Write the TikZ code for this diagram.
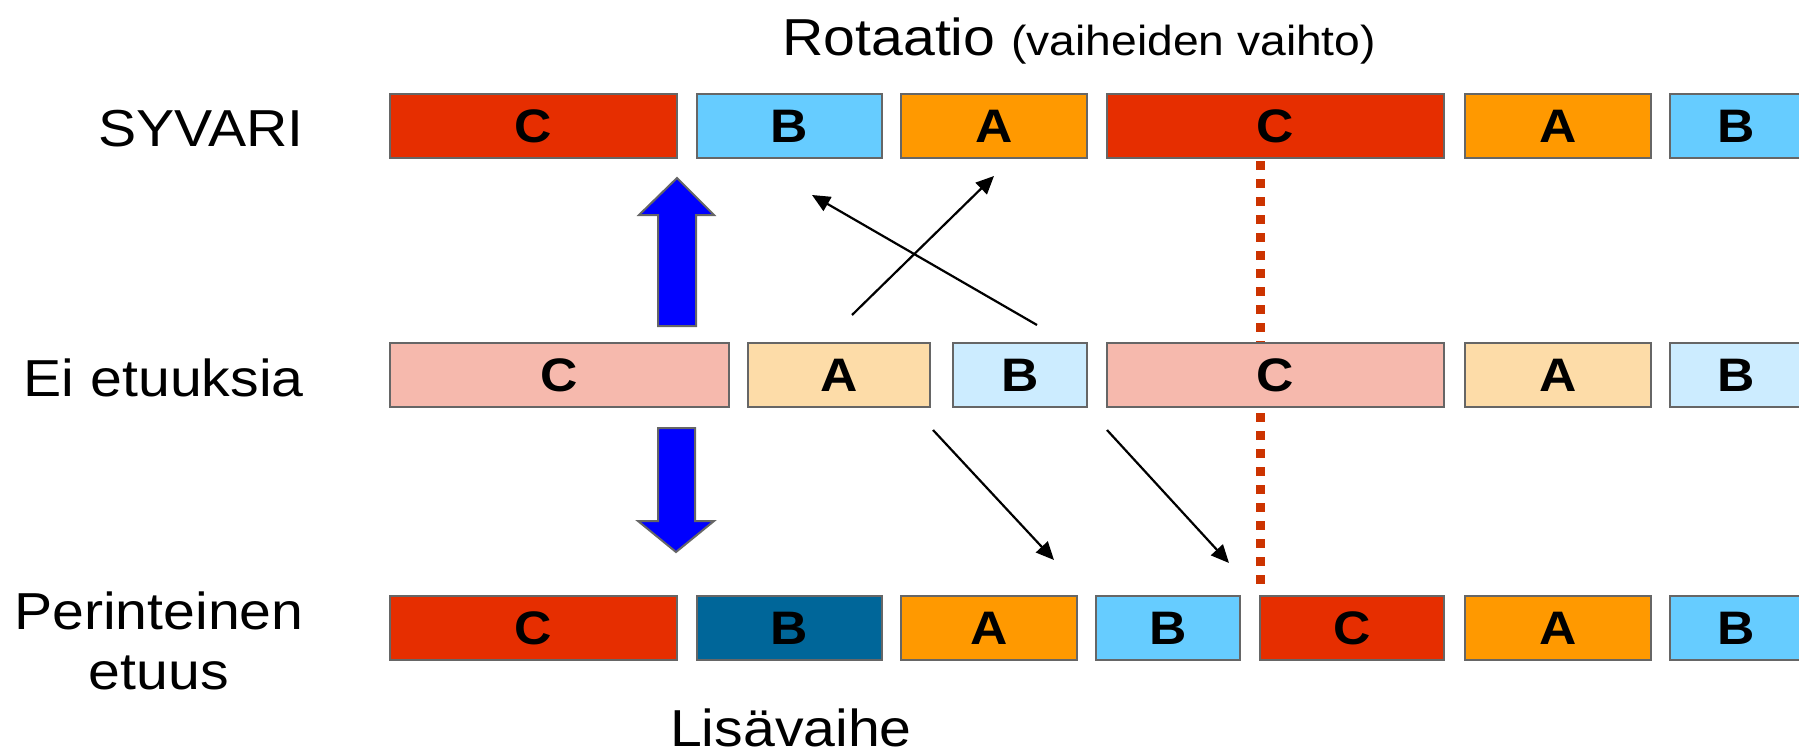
\documentclass[tikz,border=0pt]{standalone}
\usepackage{fontspec}
\setmainfont[FakeStretch=1.1]{Liberation Sans}
\usetikzlibrary{arrows.meta}
\definecolor{cred}{RGB}{230,46,0}
\definecolor{clblue}{RGB}{102,204,255}
\definecolor{corange}{RGB}{255,153,0}
\definecolor{cdblue}{RGB}{0,102,153}
\definecolor{cpred}{RGB}{246,185,173}
\definecolor{cporange}{RGB}{253,220,168}
\definecolor{cpblue}{RGB}{204,236,255}
\definecolor{cdot}{RGB}{204,51,0}
\definecolor{cedge}{RGB}{102,102,102}
\begin{document}
\begin{tikzpicture}[x=0.5pt,y=-0.5pt,
 seg/.style={draw=cedge, line width=1.25pt, inner sep=0pt, minimum height=32pt, font=\fontsize{23.5}{26}\selectfont\bfseries},
 lbl/.style={font=\fontsize{26}{30}\selectfont, inner sep=0pt},
 thinarrow/.style={draw=black, line width=1.1pt, -{Triangle[length=9pt,width=8pt]}},
 fatarrow/.style={fill=blue, draw=cedge, line width=1pt, line join=miter},
 dots/.style={draw=cdot, line width=4.5pt, dash pattern=on 4.5pt off 4.5pt}]
\clip (0,0) rectangle (1799,755);
% title and labels
\node[anchor=base west, inner sep=0pt] (tit) at (782,55) {\fontsize{26}{30}\selectfont Rotaatio \fontsize{21}{25}\selectfont(vaiheiden vaihto)};
\node[lbl, anchor=base east] (lsy) at (304,146) {SYVARI};
\node[lbl, anchor=base east] (lei) at (304,396) {Ei etuuksia};
\node[lbl, anchor=base east] (lpe) at (304,629) {Perinteinen};
\node[lbl, anchor=base] (lpe2) at ([yshift=-30pt]lpe.base) {etuus};
\node[lbl, anchor=base] (lis) at (791,746) {Lisävaihe};
% row 1: SYVARI
\node[seg, fill=cred, minimum width=143.5pt] (s1) at (533.5,126) {C};
\node[seg, fill=clblue, minimum width=92.5pt] (s2) at (789.5,126) {B};
\node[seg, fill=corange, minimum width=93pt] (s3) at (994,126) {A};
\node[seg, fill=cred, minimum width=168.5pt] (s4) at (1275.5,126) {C};
\node[seg, fill=corange, minimum width=93pt] (s5) at (1558,126) {A};
\node[seg, fill=clblue, minimum width=66pt] (s6) at (1736,126) {B};
% row 3: Perinteinen etuus
\node[seg, fill=cred, minimum width=143.5pt] (p1) at (533.5,628) {C};
\node[seg, fill=cdblue, minimum width=92.5pt] (p2) at (789.5,628) {B};
\node[seg, fill=corange, minimum width=88pt] (p3) at (989,628) {A};
\node[seg, fill=clblue, minimum width=72pt] (p4) at (1168,628) {B};
\node[seg, fill=cred, minimum width=92pt] (p5) at (1352,628) {C};
\node[seg, fill=corange, minimum width=93pt] (p6) at (1558,628) {A};
\node[seg, fill=clblue, minimum width=66pt] (p7) at (1736,628) {B};
% dotted divider
\coordinate (dtop) at (1260,161);
\draw[dots] (dtop) -- ([yshift=2pt]dtop |- p5.north) ;
% row 2: Ei etuuksia
\node[seg, fill=cpred, minimum width=169.5pt] (e1) at (559.5,375) {C};
\node[seg, fill=cporange, minimum width=91pt] (e2) at (839,375) {A};
\node[seg, fill=cpblue, minimum width=67pt] (e3) at (1020,375) {B};
\node[seg, fill=cpred, minimum width=168.5pt] (e4) at (1275.5,375) {C};
\node[seg, fill=cporange, minimum width=93pt] (e5) at (1558,375) {A};
\node[seg, fill=cpblue, minimum width=66pt] (e6) at (1736,375) {B};
% fat blue arrows
\draw[fatarrow] (658,326) -- (658,215) -- (639,215) -- (677,178) -- (714,215) -- (696,215) -- (696,326) -- cycle;
\draw[fatarrow] (658,428) -- (658,521) -- (638,521) -- (676,552) -- (714,521) -- (695,521) -- (695,428) -- cycle;
% thin arrows
\coordinate (a1s) at (852,315); \coordinate (a1e) at (994,176);
\coordinate (a2s) at (1037,325); \coordinate (a2e) at (812,195);
\coordinate (a3s) at (933,430); \coordinate (a3e) at (1054,560);
\coordinate (a4s) at (1107,430); \coordinate (a4e) at (1229,563);
\draw[thinarrow] (a1s) -- (a1e);
\draw[thinarrow] (a2s) -- (a2e);
\draw[thinarrow] (a3s) -- (a3e);
\draw[thinarrow] (a4s) -- (a4e);
\end{tikzpicture}
\end{document}
